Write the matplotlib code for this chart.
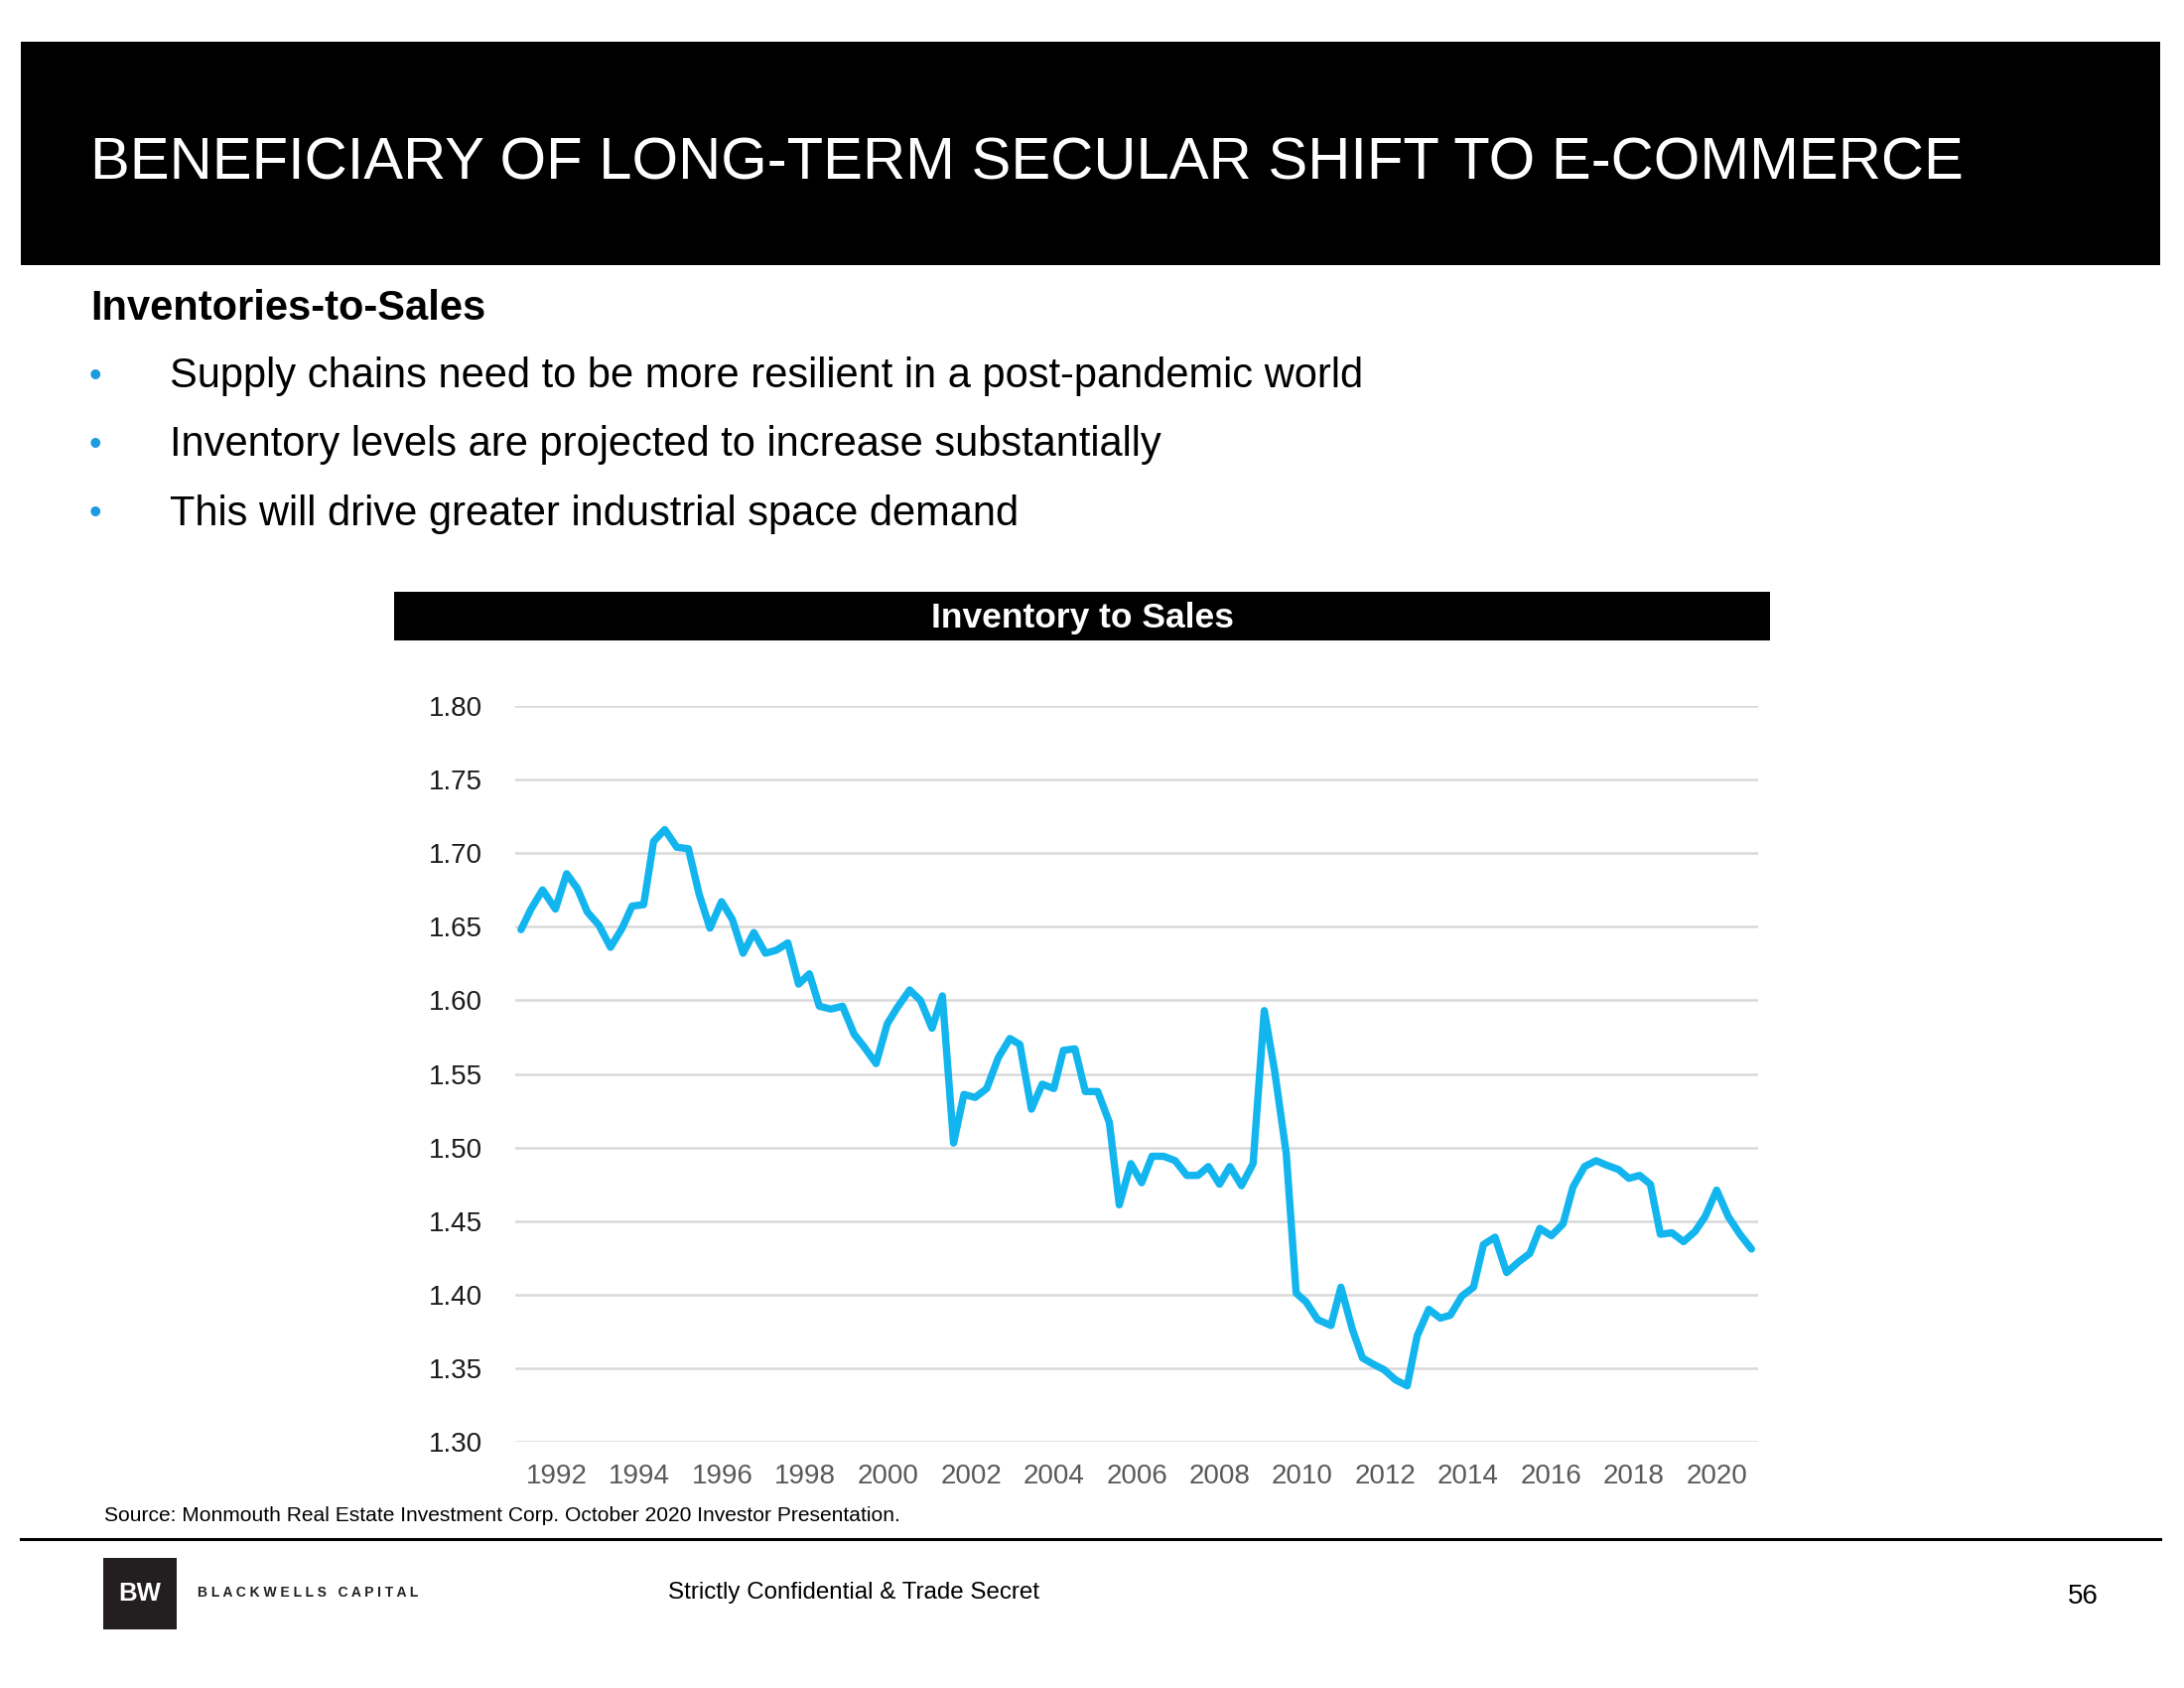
import matplotlib.pyplot as plt
from matplotlib.patches import Rectangle
from matplotlib.lines import Line2D

plt.rcParams['font.family'] = ['Liberation Sans', 'DejaVu Sans']

# ---------------------------
# Dados (ano decimal, relação estoque/vendas)
# ---------------------------
anos = [
    1991.14, 1991.38, 1991.66, 1991.97, 1992.24, 1992.50, 1992.74, 1993.02, 1993.30, 1993.58,
    1993.82, 1994.10, 1994.34, 1994.61, 1994.90, 1995.18, 1995.44, 1995.70, 1995.98, 1996.24,
    1996.50, 1996.76, 1997.04, 1997.30, 1997.58, 1997.84, 1998.10, 1998.34, 1998.62, 1998.90,
    1999.18, 1999.43, 1999.71, 1999.98, 2000.22, 2000.52, 2000.78, 2001.06, 2001.31, 2001.58,
    2001.83, 2002.10, 2002.38, 2002.66, 2002.94, 2003.18, 2003.46, 2003.72, 2004.00, 2004.23,
    2004.51, 2004.76, 2005.06, 2005.34, 2005.58, 2005.86, 2006.12, 2006.37, 2006.65, 2006.93,
    2007.21, 2007.48, 2007.73, 2008.00, 2008.25, 2008.53, 2008.81, 2009.08, 2009.33, 2009.61,
    2009.85, 2010.09, 2010.37, 2010.69, 2010.93, 2011.21, 2011.45, 2011.69, 2011.97, 2012.25,
    2012.53, 2012.77, 2013.05, 2013.33, 2013.57, 2013.85, 2014.13, 2014.37, 2014.65, 2014.93,
    2015.21, 2015.49, 2015.73, 2016.01, 2016.29, 2016.53, 2016.81, 2017.09, 2017.34, 2017.63,
    2017.88, 2018.14, 2018.40, 2018.64, 2018.92, 2019.20, 2019.48, 2019.72, 2020.00, 2020.28,
    2020.56, 2020.84,
]
valores = [
    1.648, 1.662, 1.675, 1.662, 1.686, 1.676, 1.660, 1.651, 1.636, 1.649,
    1.664, 1.665, 1.708, 1.716, 1.704, 1.703, 1.672, 1.649, 1.667, 1.655,
    1.632, 1.646, 1.632, 1.634, 1.639, 1.611, 1.618, 1.596, 1.594, 1.596,
    1.577, 1.568, 1.557, 1.584, 1.595, 1.607, 1.600, 1.581, 1.603, 1.503,
    1.536, 1.534, 1.540, 1.561, 1.574, 1.570, 1.526, 1.543, 1.540, 1.566,
    1.567, 1.538, 1.538, 1.517, 1.461, 1.489, 1.476, 1.494, 1.494, 1.491,
    1.481, 1.481, 1.487, 1.475, 1.487, 1.474, 1.489, 1.593, 1.552, 1.496,
    1.401, 1.395, 1.383, 1.379, 1.405, 1.376, 1.357, 1.353, 1.349, 1.342,
    1.338, 1.372, 1.390, 1.384, 1.386, 1.399, 1.405, 1.434, 1.439, 1.415,
    1.422, 1.428, 1.445, 1.440, 1.448, 1.473, 1.487, 1.491, 1.488, 1.485,
    1.479, 1.481, 1.475, 1.441, 1.442, 1.436, 1.443, 1.453, 1.471, 1.453,
    1.441, 1.431,
]
anos_rotulos = list(range(1992, 2021, 2))
ticks_y = [1.30, 1.35, 1.40, 1.45, 1.50, 1.55, 1.60, 1.65, 1.70, 1.75, 1.80]

titulo = "BENEFICIARY OF LONG-TERM SECULAR SHIFT TO E-COMMERCE"
subtitulo = "Inventories-to-Sales"
topicos = [
    "Supply chains need to be more resilient in a post-pandemic world",
    "Inventory levels are projected to increase substantially",
    "This will drive greater industrial space demand",
]
titulo_grafico = "Inventory to Sales"
fonte = "Source: Monmouth Real Estate Investment Corp. October 2020 Investor Presentation."

W, H = 2200, 1700
AZUL = '#12B5EE'


# converte pixels (origem no topo) para fração da figura
def fx(x):
    return x / W


def fy(y):
    return 1 - y / H


def caixa(fig, x0, y0, x1, y1, cor):
    fig.add_artist(Rectangle((fx(x0), fy(y1)), fx(x1) - fx(x0), fy(y0) - fy(y1),
                             transform=fig.transFigure, color=cor, lw=0))


fig = plt.figure(figsize=(22, 17), dpi=100)

# Barra do título
caixa(fig, 21, 42, 2176, 267, 'black')
fig.text(fx(91), fy(165), titulo, color='white', fontsize=43, va='center', ha='left')

# Subtítulo e tópicos
fig.text(fx(91), fy(311), subtitulo, fontsize=30, fontweight='bold', va='center')
for i, t in enumerate(topicos):
    y = 379 + i * 69.5
    fig.text(fx(90), fy(y), "•", color='#1C9BE0', fontsize=26, va='center')
    fig.text(fx(171), fy(y), t, fontsize=30, va='center')

# Barra do título do gráfico
caixa(fig, 397, 596, 1783, 645, 'black')
fig.text(fx(1090), fy(622), titulo_grafico, color='white', fontsize=25.5,
         fontweight='bold', ha='center', va='center')

# Gráfico
ax = fig.add_axes([fx(519), fy(1452), fx(1771) - fx(519), fy(711) - fy(1452)])
ax.plot(anos, valores, color=AZUL, lw=5.3, solid_joinstyle='round', solid_capstyle='round')
ax.set_xlim(1991, 2021)
ax.set_ylim(1.30, 1.80)
ax.set_yticks(ticks_y)
ax.set_yticklabels([f"{v:.2f}" for v in ticks_y], fontsize=20, color='#1a1a1a')
ax.set_xticks(anos_rotulos)
ax.set_xticklabels([str(a) for a in anos_rotulos], fontsize=20, color='#595959')
ax.tick_params(axis='both', length=0)
ax.tick_params(axis='y', pad=24)
ax.tick_params(axis='x', pad=16)
ax.grid(axis='y', color='#D9D9D9', lw=1.8)
ax.set_axisbelow(True)
for s in ax.spines.values():
    s.set_visible(False)

# Fonte
fig.text(fx(105), fy(1527), fonte, fontsize=15.1, va='center')

# Rodapé
fig.add_artist(Line2D([fx(21), fx(2176)], [fy(1550), fy(1550)], color='black', lw=2.2,
                      transform=fig.transFigure))
caixa(fig, 104, 1569, 178, 1641, '#231F20')
fig.text(fx(141), fy(1605), "BW", color='white', fontsize=18.5, fontweight='bold',
         ha='center', va='center')
fig.text(fx(199), fy(1604), "B L A C K W E L L S   C A P I T A L", fontsize=10,
         fontweight='bold', color='#231F20', va='center')
fig.text(fx(673), fy(1604), "Strictly Confidential & Trade Secret", fontsize=17.4, va='center')
fig.text(fx(2114), fy(1608), "56", fontsize=20, ha='right', va='center')

fig.savefig('out.png', dpi=100)
